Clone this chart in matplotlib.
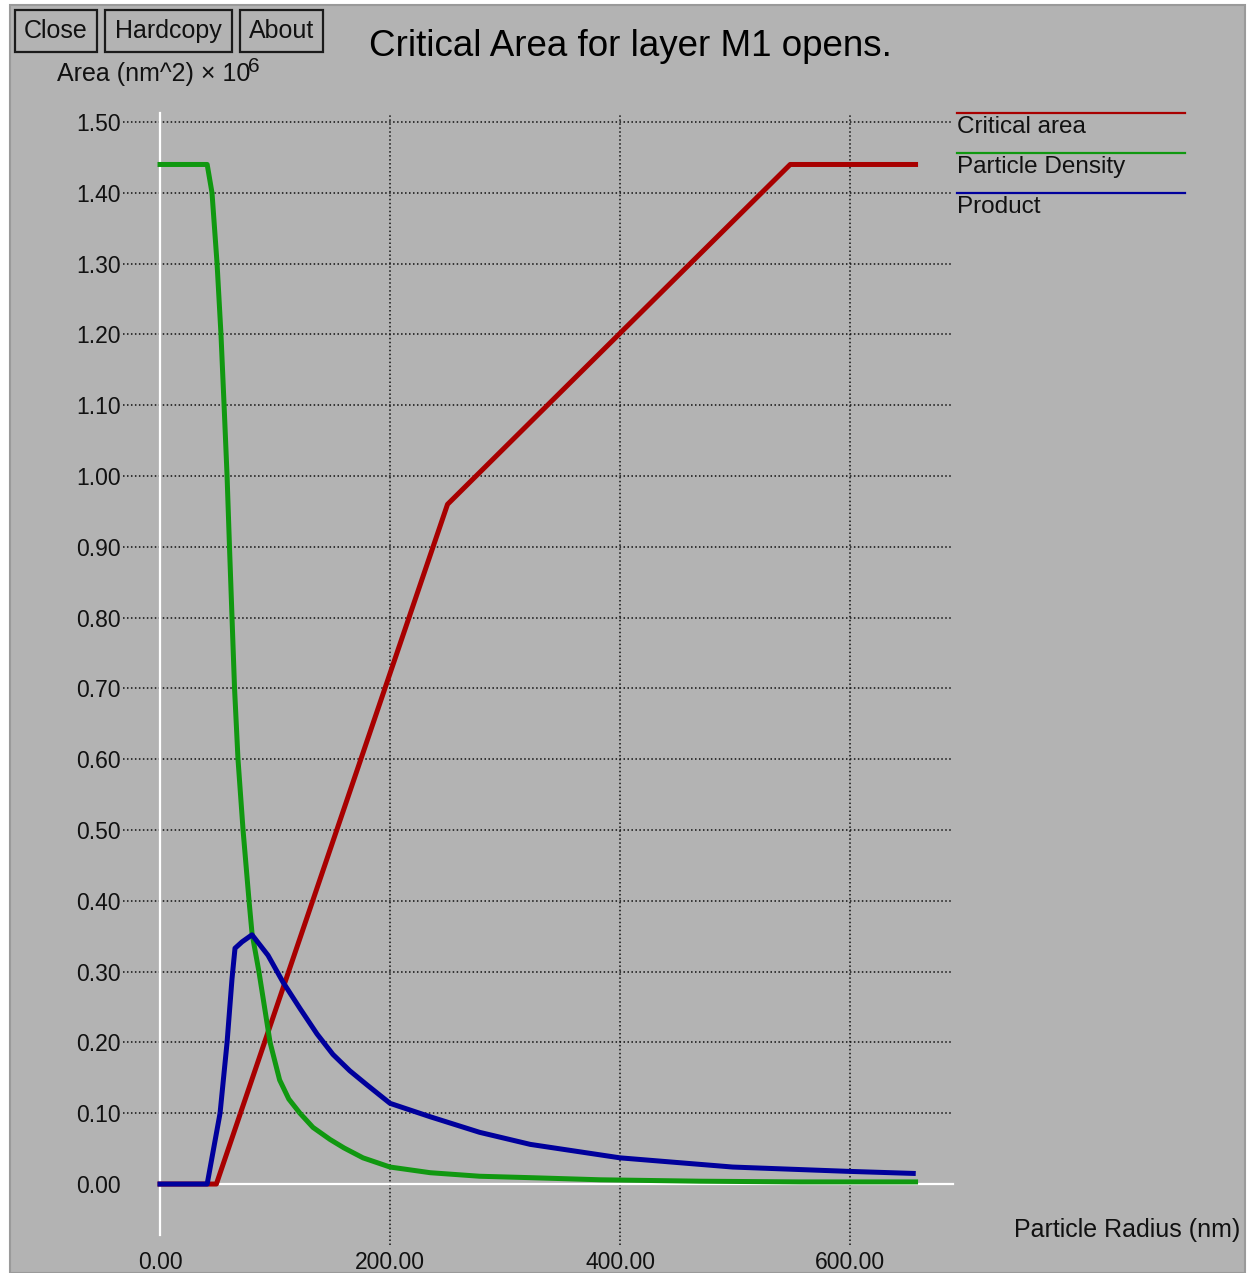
import matplotlib
matplotlib.use("Agg")
import matplotlib.pyplot as plt
from matplotlib.patches import Rectangle

plt.rcParams['font.family'] = ['Liberation Sans', 'DejaVu Sans']

# --- data (radius in nm, area in nm^2 x 1e6) ---
radius_ca = [0, 49, 250, 548, 657]
critical_area = [0, 0, 0.96, 1.44, 1.44]

radius_pd = [0, 41, 45.2, 49.6, 53.0, 55.7, 58.3, 60.4, 62.6, 64.8, 67.8, 72.2, 77.4,
             80, 86, 95.7, 104, 112, 121.7, 133, 147.8, 160, 176.5, 200, 235, 278,
             322, 383, 470, 556, 657]
particle_density = [1.44, 1.44, 1.40, 1.30, 1.20, 1.10, 1.00, 0.90, 0.80, 0.70, 0.60,
                    0.50, 0.40, 0.354, 0.30, 0.20, 0.147, 0.12, 0.10, 0.08, 0.063,
                    0.051, 0.037, 0.024, 0.016, 0.011, 0.009, 0.006, 0.004, 0.003,
                    0.003]

radius_pr = [0, 41, 52.2, 58.3, 62.6, 65.2, 71.3, 80, 93.9, 107, 121.7, 136.5, 150.4,
             165, 180, 200, 235, 278, 322, 400, 498, 597, 655]
product = [0, 0, 0.10, 0.20, 0.29, 0.333, 0.342, 0.352, 0.323, 0.285, 0.248, 0.212,
           0.183, 0.16, 0.14, 0.114, 0.095, 0.073, 0.056, 0.037, 0.024, 0.018, 0.015]

x_ticks = [0, 200, 400, 600]
y_ticks = [i / 10 for i in range(16)]

series_names = ["Critical area", "Particle Density", "Product"]
series_colors = ["#a80000", "#109810", "#00009c"]

W, H = 1257, 1273
BG = "#b3b3b3"


def fx(x):
    return x / W


def fy(y):
    return 1 - y / H


fig = plt.figure(figsize=(W / 100, H / 100), dpi=100)
fig.patch.set_facecolor("white")

# window background
fig.add_artist(Rectangle((fx(10), fy(1273)), fx(1245) - fx(10), fy(5) - fy(1273),
                         transform=fig.transFigure, facecolor=BG,
                         edgecolor="#9a9a9a", linewidth=1.5, zorder=-10))

# buttons
for label, x0, x1 in [("Close", 15, 97), ("Hardcopy", 105, 232), ("About", 240, 323)]:
    fig.add_artist(Rectangle((fx(x0), fy(52)), fx(x1) - fx(x0), fy(10) - fy(52),
                             transform=fig.transFigure, facecolor="none",
                             edgecolor="#1a1a1a", linewidth=1.6))
    fig.text(fx((x0 + x1) / 2), fy(31), label, ha="center", va="center",
             fontsize=18, color="#111111")

fig.text(fx(630), fy(46), "Critical Area for layer M1 opens.", ha="center",
         va="center", fontsize=26.5, color="black")
fig.text(fx(57), fy(74), "Area (nm^2) \u00d7 10", ha="left", va="center",
         fontsize=18, color="#111111")
fig.text(fx(248), fy(66), "6", ha="left", va="center", fontsize=15, color="#111111")
fig.text(fx(1014), fy(1230), "Particle Radius (nm)", ha="left", va="center",
         fontsize=18, color="#111111")

# plot area
ax = fig.add_axes([fx(123), fy(1245), fx(952) - fx(123), fy(113) - fy(1245)])
ax.set_facecolor("none")
ax.set_xlim(-32.2, 688.7)
ax.set_ylim(-0.0861, 1.5127)
for s in ax.spines.values():
    s.set_visible(False)

ax.set_xticks(x_ticks)
ax.set_xticklabels([f"{v:.2f}" for v in x_ticks])
ax.set_yticks(y_ticks)
ax.set_yticklabels([f"{v:.2f}" for v in y_ticks])
ax.tick_params(axis="both", length=0, labelsize=16.5, colors="#111111")
ax.tick_params(axis="y", pad=1.5)
ax.tick_params(axis="x", pad=4)

dots = (0, (1, 1.6))
for v in y_ticks[1:]:
    ax.axhline(v, color="#111111", linestyle=dots, linewidth=1.1, zorder=1)
for v in x_ticks[1:]:
    ax.axvline(v, color="#111111", linestyle=dots, linewidth=1.1, zorder=1)

# white axis lines
ax.plot([0, 690], [0, 0], color="white", linewidth=1.6, clip_on=False, zorder=2)
ax.plot([0, 0], [-0.072, 1.5127], color="white", linewidth=1.6, clip_on=False, zorder=2)

ax.plot(radius_ca, critical_area, color=series_colors[0], linewidth=3.6, zorder=3)
ax.plot(radius_pd, particle_density, color=series_colors[1], linewidth=3.6, zorder=4)
ax.plot(radius_pr, product, color=series_colors[2], linewidth=3.6, zorder=5)

# legend: line above each name
for i, (name, col) in enumerate(zip(series_names, series_colors)):
    ly = 113 + 40 * i
    fig.add_artist(plt.Line2D([fx(957), fx(1185)], [fy(ly), fy(ly)],
                              transform=fig.transFigure, color=col, linewidth=1.6))
    fig.text(fx(957), fy(ly + 14), name, ha="left", va="center", fontsize=17.5,
             color="#111111")

fig.savefig("out.png", dpi=100, facecolor=fig.get_facecolor())
